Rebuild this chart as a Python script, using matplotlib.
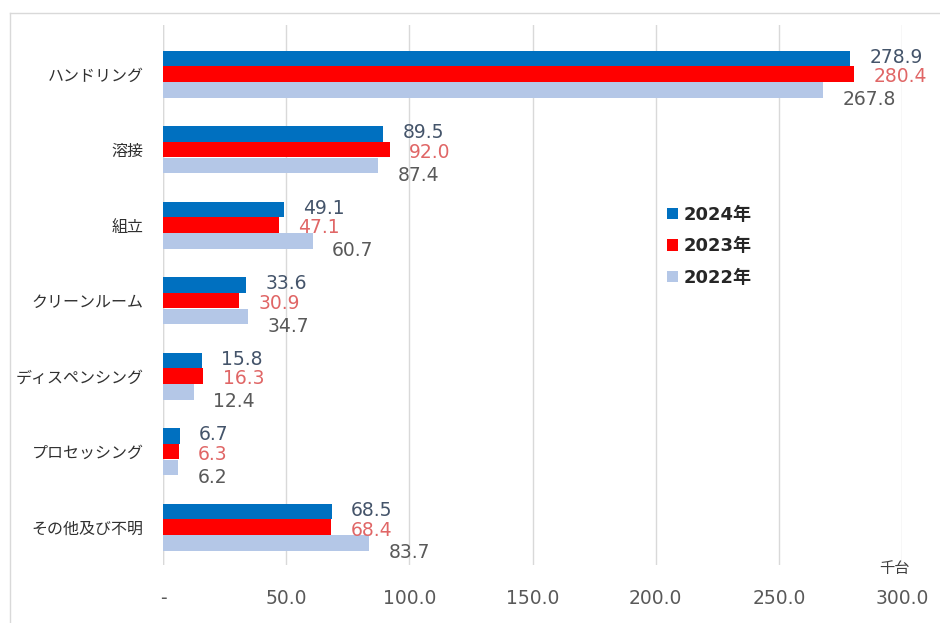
import matplotlib
matplotlib.use("Agg")
import matplotlib.pyplot as plt
from matplotlib.patches import Patch
from matplotlib.lines import Line2D
import numpy as np

plt.rcParams['font.family'] = ['DejaVu Sans', 'Noto Sans CJK JP']

categories = ["ハンドリング", "溶接", "組立", "クリーンルーム",
              "ディスペンシング", "プロセッシング", "その他及び不明"]
v2024 = [278.9, 89.5, 49.1, 33.6, 15.8, 6.7, 68.5]
v2023 = [280.4, 92.0, 47.1, 30.9, 16.3, 6.3, 68.4]
v2022 = [267.8, 87.4, 60.7, 34.7, 12.4, 6.2, 83.7]
years = ["2024年", "2023年", "2022年"]
xticks = [0, 50, 100, 150, 200, 250, 300]
xticklabels = ["-", "50.0", "100.0", "150.0", "200.0", "250.0", "300.0"]

bar_colors = ["#0070C0", "#FF0000", "#B4C7E7"]
label_colors = ["#44546A", "#E06666", "#595959"]
offsets = [-0.205, 0.0, 0.21]
label_dy = [1, -2, -7]   # points, vertical shift of the value labels

fig = plt.figure(figsize=(9.4, 6.23), dpi=100)
ax = fig.add_axes([0.1734, 0.0931, 0.7862, 0.8668])

y = np.arange(len(categories))
for vals, off, c, lc, dy in zip([v2024, v2023, v2022], offsets, bar_colors, label_colors, label_dy):
    bars = ax.barh(y + off, vals, height=0.205, color=c, zorder=3)
    for b, v in zip(bars, vals):
        ax.annotate(f"{v:.1f}", (b.get_width(), b.get_y() + b.get_height() / 2),
                    xytext=(14, dy), textcoords="offset points",
                    ha="left", va="center", fontsize=13.5, color=lc, zorder=4)

ax.set_xlim(0, 300)
ax.set_ylim(6.5, -0.65)
ax.set_xticks(xticks)
ax.set_xticklabels(xticklabels, fontsize=13.5, color="#595959")
ax.set_yticks(y)
ax.set_yticklabels(categories, fontsize=11.5, color="#303030",
                   family=['Noto Sans CJK JP'])
ax.tick_params(axis="x", length=0, pad=17)
ax.tick_params(axis="y", length=0, pad=14)
for s in ax.spines.values():
    s.set_visible(False)
ax.grid(axis="x", color="#D9D9D9", lw=1, zorder=0)
ax.axvline(0, color="#D9D9D9", lw=1, zorder=1)

ax.text(297, 6.54, "千台", fontsize=11, color="#404040", ha="center", va="center",
        family=['Noto Sans CJK JP'])

handles = [Patch(facecolor=c, edgecolor="none") for c in bar_colors]
leg = ax.legend(handles, years, loc="upper left", bbox_to_anchor=(0.66, 0.695),
                frameon=False, handlelength=0.6, handleheight=0.6,
                handletextpad=0.3, labelspacing=0.75,
                prop={"size": 13, "weight": "bold",
                      "family": ['DejaVu Sans', 'Noto Sans CJK JP']})
for t in leg.get_texts():
    t.set_color("#262626")

# outer chart frame
fig.add_artist(Line2D([10 / 940, 10 / 940], [0, 1 - 13 / 623], color="#D9D9D9", lw=1))
fig.add_artist(Line2D([10 / 940, 1], [1 - 13 / 623, 1 - 13 / 623], color="#D9D9D9", lw=1))

fig.savefig("out.png", dpi=100)
